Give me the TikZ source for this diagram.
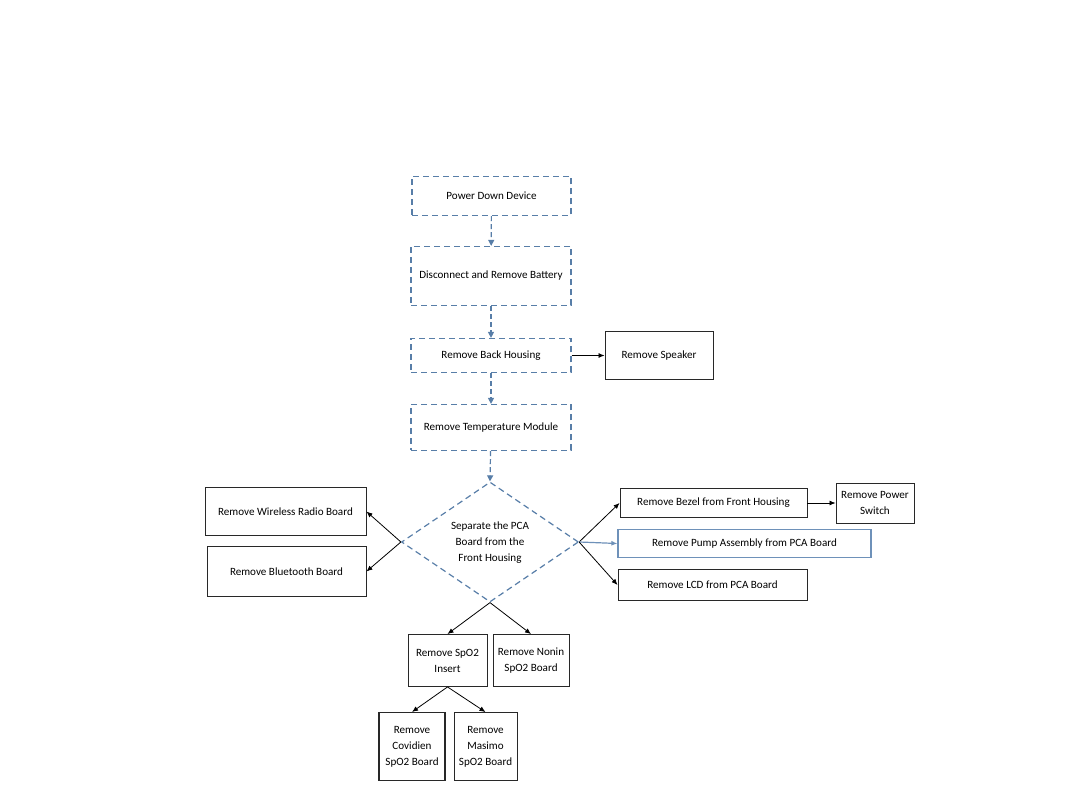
\documentclass[tikz,border=0pt]{standalone}
\usepackage{fontspec}
\setmainfont{Carlito}
\usetikzlibrary{arrows.meta,shapes.geometric}
\definecolor{dblue}{RGB}{88,126,168}
\definecolor{pblue}{RGB}{110,145,185}
\definecolor{boxgray}{RGB}{40,40,40}
\begin{document}
\begin{tikzpicture}[x=1pt,y=-1pt,
  font=\fontsize{11.1}{16}\selectfont,
  dbox/.style={draw=dblue,line width=1.2pt,dash pattern=on 6pt off 4pt,inner sep=0pt,align=center},
  sbox/.style={draw=boxgray,line width=0.9pt,inner sep=0pt,align=center},
  darr/.style={draw=dblue,line width=1.2pt,dash pattern=on 5pt off 3pt,-{Triangle[length=6pt,width=6pt]}},
  sarr/.style={draw=black,line width=0.8pt,-{Latex[length=6pt,width=5pt]}},
  barr/.style={draw=pblue,line width=1.2pt,-{Latex[length=6pt,width=5pt]}}]
\useasboundingbox (0,0) rectangle (1080,810);
% top chain
\node[dbox,minimum width=159pt,minimum height=39pt] (power) at (491.5,196) {Power Down Device};
\node[dbox,minimum width=160pt,minimum height=59pt] (battery) at (491,276) {Disconnect and Remove Battery};
\node[dbox,minimum width=160pt,minimum height=34pt] (back) at (491,355.5) {Remove Back Housing};
\node[sbox,minimum width=108pt,minimum height=48pt] (speaker) at (659,355.5) {Remove Speaker};
\node[dbox,minimum width=160pt,minimum height=46pt] (temp) at (491,427.5) {Remove Temperature Module};
% diamond
\node[diamond,dbox,minimum width=177pt,minimum height=120pt] (dia) at (490,542) {};
\node[align=center,inner sep=0pt] (diatext) at (490,542.5) {Separate the PCA\\Board from the\\Front Housing};
% left
\node[sbox,minimum width=161pt,minimum height=48pt] (wireless) at (285.5,511.5) {Remove Wireless Radio Board};
\node[sbox,minimum width=159pt,minimum height=50pt] (bluetooth) at (286.5,571.5) {Remove Bluetooth Board};
% right
\node[sbox,minimum width=187pt,minimum height=29pt] (bezel) at (713.5,503) {Remove Bezel from Front Housing};
\node[sbox,minimum width=78pt,minimum height=40pt] (switch) at (875,503) {Remove Power\\Switch};
\node[draw=pblue,line width=1.2pt,inner sep=0pt,minimum width=253pt,minimum height=28pt] (pump) at (744.5,543.5) {Remove Pump Assembly from PCA Board};
\node[sbox,minimum width=189pt,minimum height=31pt] (lcd) at (712.5,585) {Remove LCD from PCA Board};
% bottom
\node[sbox,minimum width=79pt,minimum height=52pt] (insert) at (447.5,660.5) {Remove SpO2\\Insert};
\node[sbox,minimum width=76pt,minimum height=52pt] (nonin) at (531,660.5) {Remove Nonin\\SpO2 Board};
\node[sbox,line width=1.05pt,minimum width=66pt,minimum height=68pt] (covidien) at (412,746.5) {Remove\\Covidien\\SpO2 Board};
\node[sbox,minimum width=63pt,minimum height=68pt] (masimo) at (485.5,746.5) {Remove\\Masimo\\SpO2 Board};
% connectors
\draw[darr] (power) -- (battery);
\draw[darr] (battery) -- (back);
\draw[darr] (back) -- (temp);
\draw[darr] (temp) -- (dia.north);
\draw[sarr] (back.east) -- (speaker.west);
\draw[sarr] (dia.west) -- (wireless.east);
\draw[sarr] (dia.west) -- (bluetooth.east);
\draw[sarr] (dia.east) -- (bezel.west);
\draw[barr] (dia.east) -- (pump.west);
\draw[sarr] (dia.east) -- (lcd.west);
\draw[sarr] (bezel.east) -- (switch.west);
\draw[sarr] (dia.south) -- (insert.north);
\draw[sarr] (dia.south) -- (nonin.north);
\draw[sarr] (insert.south) -- (covidien.north);
\draw[sarr] (insert.south) -- (masimo.north);
\end{tikzpicture}
\end{document}
